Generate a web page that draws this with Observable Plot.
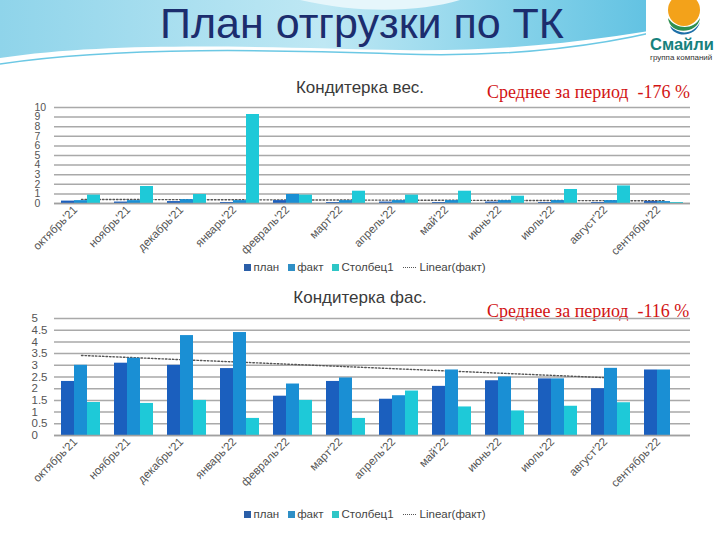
<!DOCTYPE html>
<html><head><meta charset="utf-8">
<script src="https://cdn.jsdelivr.net/npm/d3@7"></script>
<script src="https://cdn.jsdelivr.net/npm/@observablehq/plot@0.6"></script>
<style>
body{margin:0;background:#fff;}
#page{position:relative;width:720px;height:540px;overflow:hidden;font-family:"Liberation Sans",Arial,sans-serif;background:#fff;}
.abs{position:absolute;}
#title{left:0;top:-2px;width:724px;text-align:center;font-family:"Liberation Sans Narrow","Arial Narrow","Liberation Sans",sans-serif;font-size:43px;color:#1c2d6e;white-space:nowrap;line-height:50px;}
.ctitle{left:0;width:720px;text-align:center;font-size:17px;color:#3a3a3a;}
.avg{left:487px;font-family:"Liberation Serif","DejaVu Serif",serif;font-size:18px;color:#d21414;white-space:nowrap;}
.legend{left:0;width:730px;display:flex;justify-content:center;gap:9px;font-size:11.5px;color:#444;align-items:center;}
.legend span{display:flex;align-items:center;gap:2px;}
.legend i{display:inline-block;width:7px;height:7px;}
.legend b{display:inline-block;width:13px;border-top:1.5px dotted #555;margin-right:2px;}
.layer{left:0;}
</style></head>
<body><div id="page">
<svg class="abs" style="left:0;top:0" width="720" height="70">
  <defs>
    <linearGradient id="hg" x1="0" x2="1" y1="0" y2="0">
      <stop offset="0" stop-color="#8fd4ea"/>
      <stop offset="0.45" stop-color="#bfe8f4"/>
      <stop offset="0.75" stop-color="#7fcfe8"/>
      <stop offset="1" stop-color="#4fbadf"/>
    </linearGradient>
  </defs>
  <path d="M0,0 H720 V18 C620,38 520,52 400,50 C280,48 120,40 0,58 Z" fill="url(#hg)"/>
  <path d="M0,64 C120,46 280,50 400,54 C520,58 620,44 700,20" fill="none" stroke="#6cc8e4" stroke-width="1.5"/>
  <path d="M300,0 C360,14 420,12 460,0 Z" fill="#e6f6fb"/>
  <rect x="646" y="0" width="74" height="64" fill="#fff"/>
  <circle cx="684" cy="10" r="16" fill="#f3a21a"/>
  <path d="M668,18 C676,30 694,30 700,18 C698,34 670,36 668,18 Z" fill="#2f8f4f"/>
  <path d="M670,26 C680,36 694,34 700,22 C696,38 674,38 670,26 Z" fill="#1d6fa8"/>
  <text x="650" y="50" font-family="Liberation Sans,Arial,sans-serif" font-weight="bold" font-size="16.5" fill="#16817d">Смайли</text>
  <text x="650" y="60" font-family="Liberation Sans,Arial,sans-serif" font-size="8" fill="#333">группа компаний</text>
</svg>
<div id="title" class="abs">План отгрузки по ТК</div>
<div class="abs ctitle" style="top:78px">Кондитерка вес.</div>
<div class="abs avg" style="top:82px">Среднее за период&nbsp; -176 %</div>
<div id="c1a" class="abs layer" style="top:95px"></div>
<div id="c1b" class="abs layer" style="top:95px"></div>
<div class="abs legend" style="top:261px" id="leg1"></div>
<div class="abs ctitle" style="top:288px">Кондитерка фас.</div>
<div class="abs avg" style="top:301px">Среднее за период&nbsp; -116 %</div>
<div id="c2a" class="abs layer" style="top:305px"></div>
<div id="c2b" class="abs layer" style="top:305px"></div>
<div class="abs legend" style="top:508px" id="leg2"></div>
</div>
<script>
const months = ["октябрь'21","ноябрь'21","декабрь'21","январь'22","февраль'22","март'22","апрель'22","май'22","июнь'22","июль'22","август'22","сентябрь'22"];
const series = ["план","факт","Столбец1"];
const trendLabel = "Linear(факт)";

// Кондитерка вес.
const vesPlan = [0.25,0.15,0.2,0.1,0.3,0.1,0.15,0.1,0.15,0.1,0.1,0.2];
const vesFact = [0.3,0.3,0.4,0.3,0.94,0.3,0.3,0.3,0.3,0.3,0.3,0.2];
const vesCol1 = [0.87,1.77,0.94,9.27,0.87,1.28,0.87,1.28,0.76,1.46,1.83,0.1];
const vesTicks = [0,1,2,3,4,5,6,7,8,9,10];

// Кондитерка фас.
const fasPlan = [2.31,3.09,3.0,2.86,1.68,2.31,1.55,2.1,2.34,2.42,2.0,2.8];
const fasFact = [3.0,3.3,4.27,4.4,2.2,2.46,1.7,2.8,2.5,2.42,2.87,2.8];
const fasCol1 = [1.41,1.37,1.5,0.73,1.5,0.73,1.9,1.22,1.05,1.25,1.4,null];
const fasTicks = [0,0.5,1,1.5,2,2.5,3,3.5,4,4.5,5];

const colors = ["#1b5fbe","#1a8fd4","#1ec9d8"];
const legendColors = ["#2a5ea8","#2f8fc6","#2ec6c6"];

function rowsOf(plan, fact, col1){
  const rows = [];
  months.forEach((m,i)=>{
    [plan[i],fact[i],col1[i]].forEach((v,k)=>{ if(v!=null) rows.push({month:m, series:series[k], value:v}); });
  });
  return rows;
}
function trend(vals, count){
  const idx = vals.map((_,i)=>i);
  const mx = d3.mean(idx), my = d3.mean(vals);
  const b = d3.sum(idx, i=>(i-mx)*(vals[i]-my)) / d3.sum(idx, i=>(i-mx)**2);
  const a = my - b*mx;
  return months.slice(0,count).map((m,i)=>({month:m, value:a+b*i}));
}
const font = "Liberation Sans, Arial, sans-serif";

function chart(opts){
  const {plan, fact, col1, ticks, yMax, marginTop, plotH, trendCount, under, over, tickFont, tickDx} = opts;
  const marginBottom = 70;
  const height = marginTop + plotH + marginBottom;
  const common = {width:720, height, marginLeft:54, marginRight:30, marginTop, marginBottom};
  const a = Plot.plot({
    ...common,
    style:{background:"transparent", fontFamily:font, fontSize:"11px", color:"#555"},
    x:{type:"point", domain:months, padding:0.5, axis:null},
    y:{domain:[0,yMax], label:null},
    marks:[
      Plot.ruleY(ticks, {stroke:"#a9a9a9", strokeWidth:1.5}),
      Plot.axisY(ticks, {tickSize:0, textAnchor:"start", dx:tickDx, fill:"#555", fontSize:tickFont, label:null, tickFormat:d=>String(d)}),
      Plot.line(trend(fact, trendCount), {x:"month", y:"value", stroke:"#555", strokeWidth:1.4, strokeDasharray:"1.5,2"})
    ]
  });
  document.getElementById(under).append(a);
  const rows = rowsOf(plan, fact, col1);
  const b = Plot.plot({
    ...common,
    style:{background:"transparent", fontFamily:font, fontSize:"11px", color:"#555"},
    fx:{domain:months, padding:0, axis:null},
    x:{domain:series, paddingInner:0, paddingOuter:0.46, axis:null},
    y:{domain:[0,yMax], axis:null},
    color:{domain:series, range:colors},
    marks:[
      Plot.barY(rows, {fx:"month", x:"series", y:"value", fill:"series"}),
      Plot.ruleY([0], {stroke:"#a0a0a0", strokeWidth:1.5}),
      Plot.text(months, {fx:d=>d, text:d=>d, frameAnchor:"bottom", rotate:-45, textAnchor:"end", dx:-3, dy:7, fill:"#555", fontSize:11.5})
    ]
  });
  document.getElementById(over).append(b);
}
chart({plan:vesPlan, fact:vesFact, col1:vesCol1, ticks:vesTicks, yMax:10, marginTop:12, plotH:96, trendCount:12, under:"c1a", over:"c1b", tickFont:10.5, tickDx:-11});
chart({plan:fasPlan, fact:fasFact, col1:fasCol1, ticks:fasTicks, yMax:5, marginTop:13, plotH:117, trendCount:11, under:"c2a", over:"c2b", tickFont:11.5, tickDx:-14});

function legend(id){
  const el = document.getElementById(id);
  series.forEach((s,i)=>{
    const sp = document.createElement("span");
    sp.innerHTML = `<i style="background:${legendColors[i]}"></i>${s}`;
    el.append(sp);
  });
  const sp = document.createElement("span");
  sp.innerHTML = `<b></b>${trendLabel}`;
  el.append(sp);
}
legend("leg1"); legend("leg2");
</script>
</body></html>
